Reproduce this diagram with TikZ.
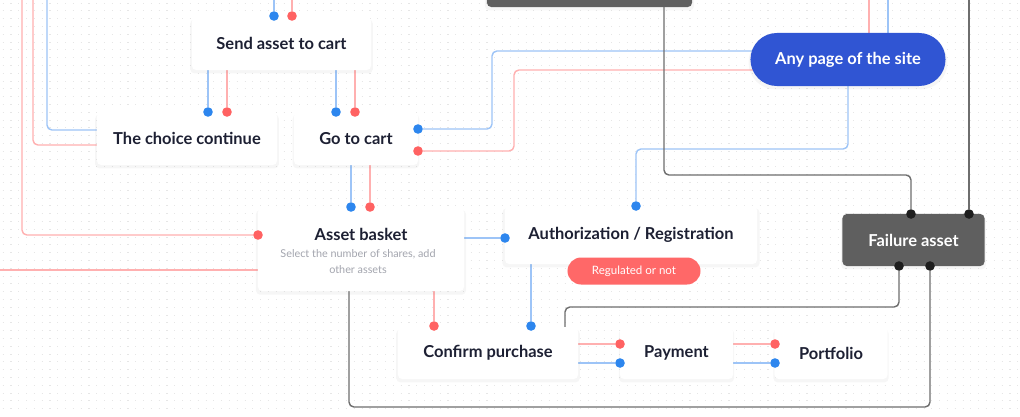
\documentclass[tikz,border=0pt]{standalone}
\usepackage{fontspec}
\setmainfont{Lato}
\usepackage{xcolor}
\usetikzlibrary{backgrounds,shadows}
\definecolor{tinta}{HTML}{1D2033}
\definecolor{tinta2}{HTML}{A3A5AE}
\definecolor{azul}{HTML}{9DC4F7}
\definecolor{azulp}{HTML}{2D86EE}
\definecolor{rojo}{HTML}{FFB0B0}
\definecolor{rojop}{HTML}{FF6262}
\definecolor{gris}{HTML}{6E6E6E}
\definecolor{grisp}{HTML}{1E1E1E}
\definecolor{oscuro}{HTML}{5F5F5F}
\definecolor{acento}{HTML}{3055D3}
\definecolor{alerta}{HTML}{FF6868}
\definecolor{rejilla}{HTML}{E6E6E6}

\begin{document}
\begin{tikzpicture}[x=0.025cm,y=-0.025cm,font=\fontsize{11.7}{13}\selectfont\bfseries,
  caja/.style={fill=white,rounded corners=3pt,inner sep=0pt,minimum height=1.3cm,text=tinta,align=center,
    drop shadow={opacity=0.07,shadow xshift=0pt,shadow yshift=-2pt,shadow scale=1.02}},
  oscura/.style={caja,fill=oscuro,text=white},
  pastilla/.style={caja,fill=acento,text=white,rounded corners=0.66cm,minimum width=4.875cm,minimum height=1.325cm},
  insignia/.style={fill=alerta,text=white,rounded corners=0.34cm,inner sep=0pt,minimum width=3.325cm,minimum height=0.675cm,font=\fontsize{8.2}{9}\selectfont},
  titulo/.style={text=tinta,inner sep=0pt},
  sub/.style={text=tinta2,inner sep=0pt,align=center,font=\fontsize{7.7}{11.4}\selectfont\mdseries},
  lazul/.style={azul,line width=1pt,rounded corners=3.5pt},
  lrojo/.style={rojo,line width=1pt,rounded corners=3.5pt},
  lgris/.style={gris,line width=1pt,rounded corners=3.5pt},
  pazul/.style={circle,fill=azulp,inner sep=0pt,minimum size=0.24cm},
  projo/.style={circle,fill=rojop,inner sep=0pt,minimum size=0.24cm},
  pgris/.style={circle,fill=grisp,inner sep=0pt,minimum size=0.24cm},
  puntos/.style={rejilla,line width=0.8pt,dash pattern=on 0.8pt off 4.75pt,dash phase=3.7pt}]
\useasboundingbox (0,0) rectangle (1020,416);
\coordinate (arriba) at (0,-5);

\node[oscura,minimum width=5.125cm,minimum height=1.175cm] (topo) at (589.5,-16.5) {};
\node[caja,minimum width=4.475cm,minimum height=1.325cm] (envio) at (281.5,43.5) {Send asset to cart};
\node[caja,minimum width=4.5cm,minimum height=1.325cm] (sigue) at (187,138.5) {The choice continue};
\node[caja,minimum width=3.1cm,minimum height=1.325cm] (carro) at (356,138.5) {Go to cart};
\node[pastilla] (pagina) at (848,59.5) {Any page of the site};
\node[caja,minimum width=5.15cm,minimum height=2.075cm] (cesta) at (361,249.5) {};
\node[titulo] (cestat) at (361,234) {Asset basket};
\node[sub] (cestas) at (358,262) {Select the number of shares, add\\other assets};
\node[caja,minimum width=6.3cm,minimum height=1.45cm] (auth) at (631,235) {Authorization / Registration};
\node[insignia] (regula) at (634,271) {Regulated or not};
\node[oscura,minimum width=3.55cm] (fallo) at (913.5,240) {Failure asset};
\node[caja,minimum width=4.5cm] (confirma) at (488,353) {Confirm purchase};
\node[caja,minimum width=2.825cm] (pago) at (676.5,353) {Payment};
\node[caja,minimum width=2.825cm] (cartera) at (831,353) {Portfolio};

\node[pazul] (a1) at (274,16) {};
\node[pazul] (a2) at (208,112) {};
\node[pazul] (a3) at (336,112) {};
\node[pazul] (a4) at (418,129) {};
\node[pazul] (a5) at (351,207) {};
\node[pazul] (a6) at (636,206) {};
\node[pazul] (a7) at (505,238) {};
\node[pazul] (a8) at (531,326) {};
\node[pazul] (a9) at (620,363) {};
\node[pazul] (a10) at (775,363) {};
\node[projo] (r1) at (292,16) {};
\node[projo] (r2) at (227,112) {};
\node[projo] (r3) at (355,112) {};
\node[projo] (r4) at (418,151) {};
\node[projo] (r5) at (370,207) {};
\node[projo] (r6) at (258,235) {};
\node[projo] (r7) at (434,326) {};
\node[projo] (r8) at (620,344) {};
\node[projo] (r9) at (775,344) {};
\node[pgris] (g1) at (911,214) {};
\node[pgris] (g2) at (969,214) {};
\node[pgris] (g3) at (899,266) {};
\node[pgris] (g4) at (930,266) {};

\coordinate (k1) at (47,130);
\coordinate (k2) at (33,145);
\coordinate (k3) at (492,51);
\coordinate (k4) at (514,70);
\coordinate (k5) at (848,149);
\coordinate (k6) at (888,59);
\coordinate (k7) at (869,59);
\coordinate (k8) at (22,235);
\coordinate (k9) at (-5,270);
\coordinate (k10) at (664,175);
\coordinate (k11) at (565,307);
\coordinate (k12) at (349,407);

\begin{scope}[on background layer]
\fill[white] (0,0) rectangle (1020,416);
\foreach \y in {3.1,10.9,...,416} \draw[puntos] (0,\y) -- (1020,\y);
\draw[lazul] (a1) -- (a1 |- arriba);
\draw[lazul] (a2) -- (a2 |- envio.center);
\draw[lazul] (a3) -- (a3 |- envio.center);
\draw[lazul] (sigue.center |- k1) -- (k1) -- (k1 |- arriba);
\draw[lazul] (a4) -| (k3) -- (k3 -| pagina.center);
\draw[lazul] (a5) -- (a5 |- carro.center);
\draw[lazul] (pagina.center) -- (k5) -| (a6);
\draw[lazul] (k6) -- (k6 |- arriba);
\draw[lazul] (a7) -- (a7 -| cesta.center);
\draw[lazul] (a8) -- (a8 |- auth.center);
\draw[lazul] (a9) -- (a9 -| confirma.center);
\draw[lazul] (a10) -- (a10 -| pago.center);
\draw[lrojo] (r1) -- (r1 |- arriba);
\draw[lrojo] (r2) -- (r2 |- envio.center);
\draw[lrojo] (r3) -- (r3 |- envio.center);
\draw[lrojo] (sigue.center |- k2) -- (k2) -- (k2 |- arriba);
\draw[lrojo] (r4) -| (k4) -- (k4 -| pagina.center);
\draw[lrojo] (r5) -- (r5 |- carro.center);
\draw[lrojo] (k7) -- (k7 |- arriba);
\draw[lrojo] (r6) -- (k8) -- (k8 |- arriba);
\draw[lrojo] (k9) -- (k9 -| cesta.center);
\draw[lrojo] (r7) -- (r7 |- cesta.center);
\draw[lrojo] (r8) -- (r8 -| confirma.center);
\draw[lrojo] (r9) -- (r9 -| pago.center);
\draw[lgris] (g1) |- (k10) -- (k10 |- topo.center);
\draw[lgris] (g2) -- (g2 |- arriba);
\draw[lgris] (g3) |- (k11) -- (k11 |- confirma.center);
\draw[lgris] (g4) |- (k12) -- (k12 |- cesta.center);
\end{scope}
\end{tikzpicture}
\end{document}
